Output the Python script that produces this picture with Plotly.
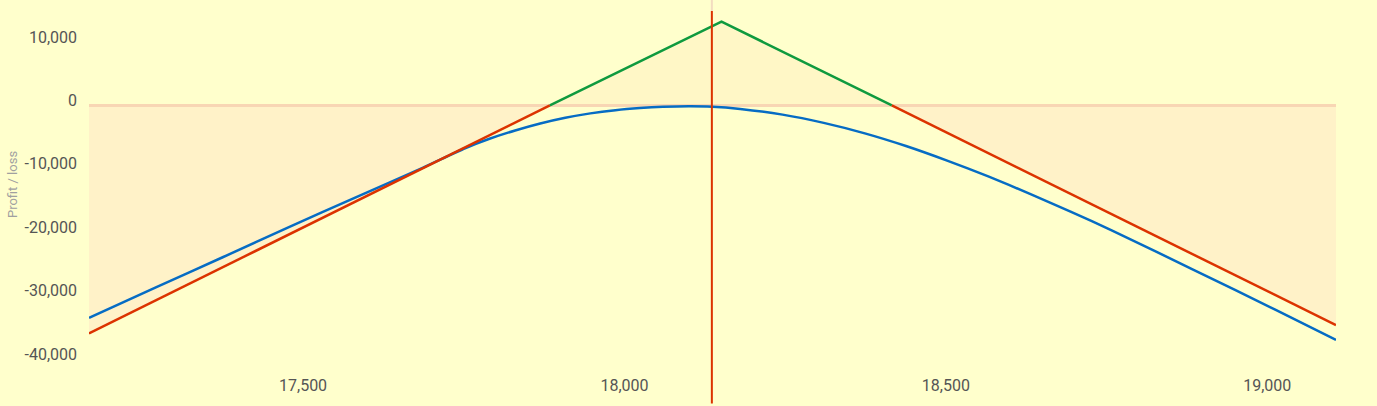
import plotly.graph_objects as go

# ---- data ----
# expiry payoff (piecewise linear)
expiry_x = [17167, 17884, 18151, 18416, 19107]
expiry_pl = [-35950, 0, 13230, 0, -34650]

# T+0 payoff curve
t0_x = [17167, 17271, 17375, 17478, 17582, 17686, 17752, 17789, 17830, 17869,
        17908, 17947, 17986, 18024, 18060, 18100, 18137, 18180, 18246, 18310,
        18374, 18438, 18502, 18566, 18630, 18694, 18758, 18887, 19014, 19107]
t0_pl = [-33500, -28700, -23950, -19200, -14500, -9850, -6750, -5300, -3950, -2850,
         -1950, -1250, -750, -420, -220, -130, -200, -550, -1450, -2750,
         -4400, -6400, -8700, -11200, -13900, -16750, -19700, -26000, -32300, -37000]

spot_price = 18136

x_tick_vals = [17500, 18000, 18500, 19000]
x_tick_text = ["17,500", "18,000", "18,500", "19,000"]
y_tick_vals = [-40000, -30000, -20000, -10000, 0, 10000]
y_tick_text = ["-40,000", "-30,000", "-20,000", "-10,000", "0", "10,000"]

x_range = [17167, 19107]
y_range = [-41420, 14900]

# ---- styles ----
BG = "#ffffcc"
NEG_FILL = "#fff2c8"
POS_FILL = "#fff7c6"
RED = "#dc3300"
GREEN = "#0f9a3e"
BLUE = "#066cc4"
ZERO = "#f8d6b4"
FONT = "Roboto"

fig = go.Figure()

# negative / positive areas of expiry payoff
segments = [
    (expiry_x[0:2], expiry_pl[0:2], NEG_FILL, RED),
    (expiry_x[1:4], expiry_pl[1:4], POS_FILL, GREEN),
    (expiry_x[3:5], expiry_pl[3:5], NEG_FILL, RED),
]
for xs, ys, fc, lc in segments:
    fig.add_trace(go.Scatter(x=xs, y=ys, mode="lines", fill="tozeroy",
                             fillcolor=fc, line=dict(width=0, color=lc),
                             hoverinfo="skip", showlegend=False))

# zero threshold line
fig.add_trace(go.Scatter(x=x_range, y=[0, 0], mode="lines",
                         line=dict(color=ZERO, width=3),
                         hoverinfo="skip", showlegend=False))

# T+0 curve
fig.add_trace(go.Scatter(x=t0_x, y=t0_pl, mode="lines",
                         line=dict(color=BLUE, width=2.5, shape="spline", smoothing=0.6),
                         showlegend=False))

# expiry lines
for xs, ys, fc, lc in segments:
    fig.add_trace(go.Scatter(x=xs, y=ys, mode="lines",
                             line=dict(width=2.5, color=lc),
                             showlegend=False))

H = 406
T, B = 11, 34
plot_h = H - T - B

# spot price line
fig.add_shape(type="line", xref="x", yref="paper", x0=spot_price, x1=spot_price,
              y0=-(B + 2) / plot_h, y1=1, line=dict(color=RED, width=2), layer="above")
fig.add_shape(type="line", xref="x", yref="paper", x0=spot_price, x1=spot_price,
              y0=1, y1=1 + (T + 2) / plot_h, line=dict(color="#f3dcc0", width=2), layer="above")

fig.add_annotation(text="Profit / loss", xref="paper", yref="paper",
                   x=(12 - 89) / 1247, y=(H - B - 187) / plot_h, textangle=-90,
                   showarrow=False, xanchor="center", yanchor="middle",
                   font=dict(family=FONT, size=13, color="#a0a0a0"))

fig.update_layout(
    width=1377, height=H,
    margin=dict(l=89, r=41, t=T, b=B),
    paper_bgcolor=BG, plot_bgcolor=BG,
    font=dict(family=FONT, size=16, color="#555555"),
    showlegend=False,
    xaxis=dict(range=x_range, tickvals=x_tick_vals, ticktext=x_tick_text,
               showgrid=False, zeroline=False, showline=False, ticks="",
               ticklabelstandoff=6,
               tickfont=dict(family=FONT, size=16, color="#555555")),
    yaxis=dict(range=y_range, tickvals=y_tick_vals, ticktext=y_tick_text,
               showgrid=False, zeroline=False, showline=False, ticks="",
               ticklabelstandoff=11, ticklabelshift=-5,
               tickfont=dict(family=FONT, size=16, color="#555555")),
)

fig.write_html(
    "out.html",
    config={"displayModeBar": False},
    post_script="document.body.style.margin='0';document.body.style.overflow='hidden';"
                "document.body.style.background='#ffffcc';",
)
